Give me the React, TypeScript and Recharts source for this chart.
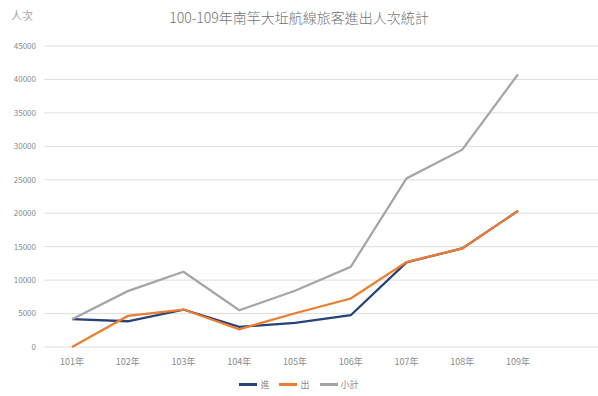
import { LineChart, Line, XAxis, YAxis, CartesianGrid } from 'recharts';

const years = ['101年', '102年', '103年', '104年', '105年', '106年', '107年', '108年', '109年'];
const inbound = [4150, 3850, 5600, 3000, 3600, 4750, 12650, 14750, 20350];
const outbound = [0, 4650, 5600, 2650, 5050, 7250, 12700, 14750, 20350];
const subtotal = [4150, 8350, 11250, 5500, 8400, 12000, 25200, 29500, 40750];
const yTicks = [0, 5000, 10000, 15000, 20000, 25000, 30000, 35000, 40000, 45000];

const series = [
  { key: 'in', name: '進', color: '#264478' },
  { key: 'out', name: '出', color: '#ED7D31' },
  { key: 'total', name: '小計', color: '#A5A5A5' },
];

const data = years.map((y, i) => ({
  year: y,
  in: inbound[i],
  out: outbound[i],
  total: subtotal[i],
}));

const font = '"Noto Sans CJK TC", "Noto Sans", sans-serif';
const textColor = '#8a8a8a';

export default function App() {
  return (
    <div style={{ position: 'absolute', left: 0, top: 0, width: 598, height: 396, background: '#fff', fontFamily: font }}>
      <div style={{ position: 'absolute', left: 11, top: 7, fontSize: 11, color: '#a8a8a8' }}>人次</div>
      <div style={{ position: 'absolute', left: 0, width: 598, top: 7, textAlign: 'center', fontSize: 14, color: '#737373', fontWeight: 300 }}>
        100-109年南竿大坵航線旅客進出人次統計
      </div>
      <LineChart width={598} height={396} data={data} margin={{ top: 46, right: 0, bottom: 19, left: 0 }}>
        <CartesianGrid vertical={false} stroke="#dedede" />
        <XAxis
          dataKey="year"
          axisLine={false}
          tickLine={false}
          tickMargin={6}
          padding={{ left: 28, right: 80 }}
          tick={{ fill: textColor, fontSize: 9, fontFamily: font }}
          interval={0}
        />
        <YAxis
          width={44}
          domain={[0, 45000]}
          ticks={yTicks}
          axisLine={false}
          tickLine={false}
          tick={{ fill: textColor, fontSize: 8, fontFamily: font }}
        />
        {series.map((s) => (
          <Line
            key={s.key}
            type="linear"
            dataKey={s.key}
            name={s.name}
            stroke={s.color}
            strokeWidth={2.25}
            dot={false}
            isAnimationActive={false}
          />
        ))}
      </LineChart>
      <div
        style={{
          position: 'absolute',
          left: 0,
          width: 598,
          top: 378,
          display: 'flex',
          justifyContent: 'center',
          alignItems: 'center',
          fontSize: 9,
          color: textColor,
          paddingLeft: 10,
          boxSizing: 'border-box',
        }}
      >
        {series.map((s) => (
          <div key={s.key} style={{ display: 'flex', alignItems: 'center', marginRight: 10 }}>
            <span style={{ display: 'inline-block', width: 18, height: 3, background: s.color, marginRight: 3 }} />
            <span>{s.name}</span>
          </div>
        ))}
      </div>
    </div>
  );
}
